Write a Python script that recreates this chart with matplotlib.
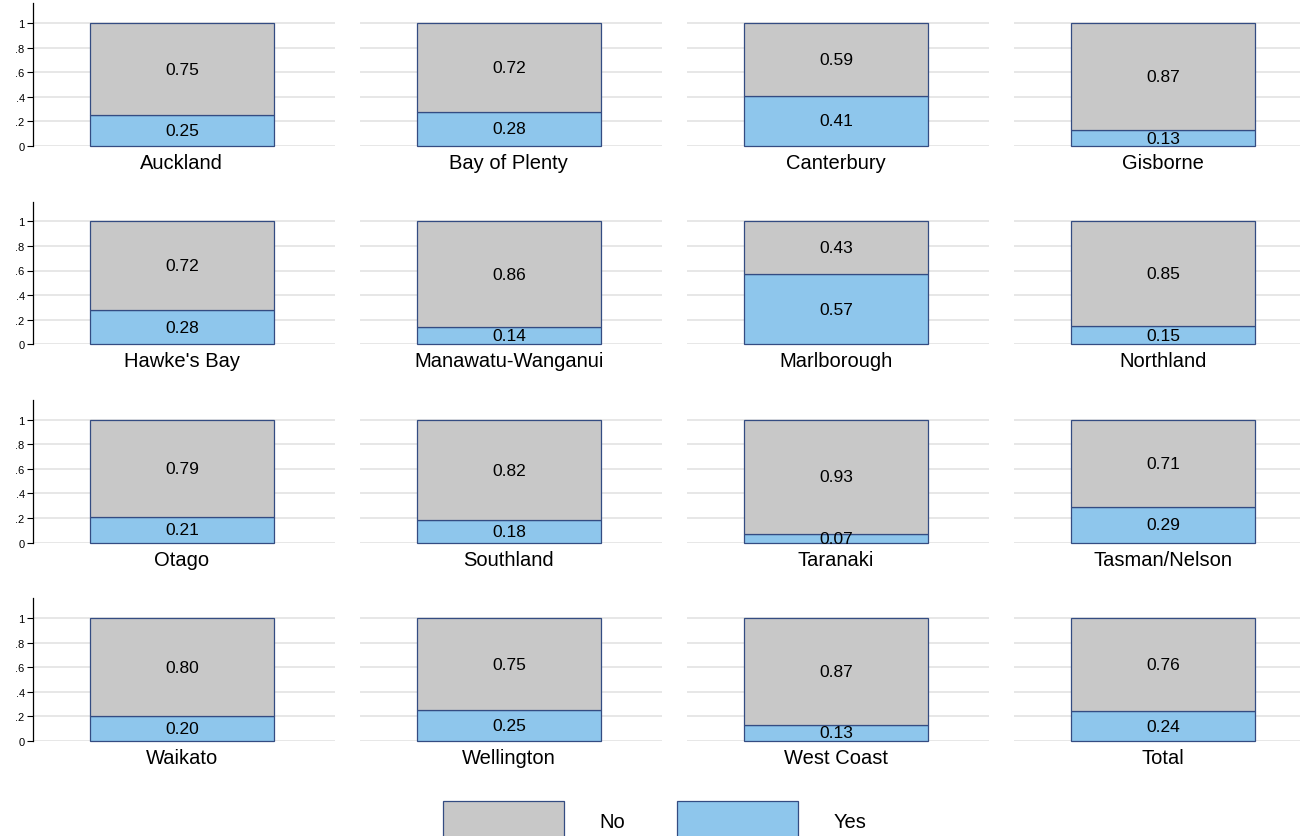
import matplotlib
matplotlib.use("Agg")
import matplotlib.pyplot as plt
from matplotlib.patches import Patch

plt.rcParams['font.family'] = ['Liberation Sans', 'DejaVu Sans']

# Share answering Yes / No by region
regions = ["Auckland", "Bay of Plenty", "Canterbury", "Gisborne",
           "Hawke's Bay", "Manawatu-Wanganui", "Marlborough", "Northland",
           "Otago", "Southland", "Taranaki", "Tasman/Nelson",
           "Waikato", "Wellington", "West Coast", "Total"]
yes = [0.25, 0.28, 0.41, 0.13,
       0.28, 0.14, 0.57, 0.15,
       0.21, 0.18, 0.07, 0.29,
       0.20, 0.25, 0.13, 0.24]
no = [0.75, 0.72, 0.59, 0.87,
      0.72, 0.86, 0.43, 0.85,
      0.79, 0.82, 0.93, 0.71,
      0.80, 0.75, 0.87, 0.76]
yticks = [0, 0.2, 0.4, 0.6, 0.8, 1]
ytick_labels = ["0", ".2", ".4", ".6", ".8", "1"]

c_no = "#c8c8c8"
c_yes = "#8ec6ec"
c_edge = "#344c82"
c_grid = "#e0e0e0"

W, H = 1300, 837
fig = plt.figure(figsize=(W / 100, H / 100), dpi=100)

ytop = 1.16
for i, name in enumerate(regions):
    r, c = divmod(i, 4)
    left = 33 + 327 * c
    base = 147 + 198.3 * r          # pixel row of y=0
    h = 123 * ytop
    ax = fig.add_axes([left / W, 1 - base / H, 302 / W, h / H])
    ax.set_xlim(-0.493, 0.507)
    ax.set_ylim(0, ytop)
    for y in yticks:
        ax.axhline(y, color=c_grid, lw=1.1, zorder=0)
    ax.bar(0, yes[i], width=0.61, color=c_yes, edgecolor=c_edge, lw=0.9, zorder=2, clip_on=False)
    ax.bar(0, no[i], bottom=yes[i], width=0.61, color=c_no, edgecolor=c_edge, lw=0.9, zorder=2, clip_on=False)
    ax.text(0, yes[i] / 2, f"{yes[i]:.2f}", ha="center", va="center", fontsize=12.5, zorder=3)
    ax.text(0, yes[i] + no[i] / 2, f"{no[i]:.2f}", ha="center", va="center", fontsize=12.5, zorder=3)
    ax.set_xticks([0])
    ax.set_xticklabels([name], fontsize=14.5)
    ax.tick_params(axis="x", length=0, pad=5)
    for s in ["top", "right", "bottom"]:
        ax.spines[s].set_visible(False)
    if c == 0:
        ax.set_yticks(yticks)
        ax.set_yticklabels(ytick_labels, fontsize=8)
        ax.tick_params(axis="y", length=4, width=0.8, pad=2)
        ax.spines["left"].set_linewidth(0.9)
    else:
        ax.set_yticks([])
        ax.spines["left"].set_visible(False)
    ax.patch.set_alpha(0)

handles = [Patch(facecolor=c_no, edgecolor=c_edge, lw=0.9, label="No"),
           Patch(facecolor=c_yes, edgecolor=c_edge, lw=0.9, label="Yes")]
fig.legend(handles=handles, loc="upper left", bbox_to_anchor=(443 / W, 1 - 802 / H),
           ncol=2, frameon=False, fontsize=14.5, handlelength=6, handleheight=2.6,
           handletextpad=1.75, columnspacing=2.6, borderpad=0, borderaxespad=0)

fig.savefig("out.png", dpi=100)
